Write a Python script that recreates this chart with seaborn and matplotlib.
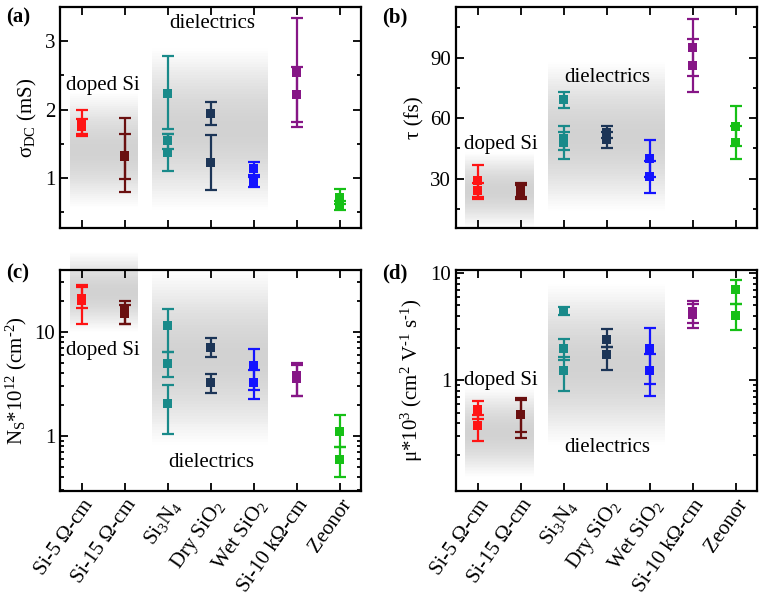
import numpy as np
import pandas as pd
import matplotlib
matplotlib.use("Agg")
import matplotlib.pyplot as plt
import seaborn as sns
from matplotlib.colors import LinearSegmentedColormap
from matplotlib.ticker import MultipleLocator, NullFormatter, LogLocator

# materials and colours
materials = ["Si-5 Ω-cm", "Si-15 Ω-cm", "Si$_3$N$_4$", "Dry SiO$_2$",
             "Wet SiO$_2$", "Si-10 kΩ-cm", "Zeonor"]
colors = ["#ff1414", "#6a1010", "#198a8a", "#1c3557", "#1414ff", "#861686", "#16c016"]

# (a) DC conductivity (mS): values, lower and upper error bar ends
sigma_vals = [[1.80, 1.75], [1.33, 1.31], [2.24, 1.55, 1.38], [1.94, 1.22], [1.14, 0.94], [2.55, 2.22], [0.72, 0.59]]
sigma_lo = [[1.64, 1.61], [0.80, 0.99], [1.71, 1.43, 1.11], [1.77, 0.82], [1.04, 0.87], [1.75, 1.82], [0.62, 0.54]]
sigma_hi = [[2.00, 1.87], [1.88, 1.64], [2.79, 1.64, 1.64], [2.11, 1.63], [1.24, 1.02], [3.34, 2.63], [0.84, 0.66]]

# (b) scattering time (fs)
tau_vals = [[29, 24], [24.5, 23.5], [69, 50, 48], [53, 49.5], [40, 31], [95, 86], [56, 48]]
tau_lo = [[21, 20], [21, 20], [65, 44, 40], [50, 45], [31, 23], [81, 73], [46, 40]]
tau_hi = [[37, 28], [28, 27], [73, 56, 53], [56, 53], [49, 39], [109, 99], [66, 56]]

# (c) carrier density (1e12 cm^-2)
ns_vals = [[21, 20], [16, 15], [11.5, 5.0, 2.05], [7.1, 3.26], [4.74, 3.26], [3.8, 3.6], [1.1, 0.6]]
ns_lo = [[12, 17], [12, 12], [6.4, 3.7, 1.04], [5.7, 2.57], [2.75, 2.25], [2.4, 2.4], [0.78, 0.40]]
ns_hi = [[28, 27], [20, 18], [16.6, 6.4, 3.07], [8.7, 3.94], [6.8, 4.27], [5.0, 4.8], [1.59, 0.78]]

# (d) mobility (1e3 cm^2 V^-1 s^-1)
mu_vals = [[0.54, 0.38], [0.48, 0.48], [4.45, 2.0, 1.23], [2.43, 1.75], [1.98, 1.23], [4.4, 4.1], [7.0, 4.0]]
mu_lo = [[0.44, 0.275], [0.33, 0.29], [4.1, 1.55, 0.8], [2.07, 1.26], [0.92, 0.72], [3.4, 3.05], [5.2, 2.93]]
mu_hi = [[0.64, 0.48], [0.68, 0.65], [4.8, 2.41, 1.66], [3.0, 2.07], [3.09, 1.76], [5.55, 5.2], [8.6, 5.2]]

panels = {"a": (sigma_vals, sigma_lo, sigma_hi),
          "b": (tau_vals, tau_lo, tau_hi),
          "c": (ns_vals, ns_lo, ns_hi),
          "d": (mu_vals, mu_lo, mu_hi)}

rows = []
for key, (vals, lo, hi) in panels.items():
    for i, m in enumerate(materials):
        for v, l, h in zip(vals[i], lo[i], hi[i]):
            rows.append({"panel": key, "pos": i, "material": m, "value": v, "lo": l, "hi": h})
df = pd.DataFrame(rows)

sns.set_theme(style="ticks")
plt.rcParams["font.family"] = "serif"
plt.rcParams["font.serif"] = ["Liberation Serif", "DejaVu Serif"]
plt.rcParams["mathtext.fontset"] = "custom"
plt.rcParams["mathtext.rm"] = "Liberation Serif"
plt.rcParams["mathtext.it"] = "Liberation Serif:italic"
plt.rcParams["mathtext.default"] = "regular"
for k in ["axes.edgecolor", "xtick.color", "ytick.color", "text.color", "axes.labelcolor"]:
    plt.rcParams[k] = "black"

shade_cmap = LinearSegmentedColormap.from_list("shade", ["white", "#d2d2d2"])


def shade(ax, x0, x1, y0, y1, log=False, dark=1.0):
    # vertical grey gradient box, darkest in the middle
    n = 60
    ys = np.geomspace(y0, y1, n + 1) if log else np.linspace(y0, y1, n + 1)
    t = (np.arange(n) + 0.5) / n
    c = dark * np.sin(np.pi * t) ** 1.1
    ax.pcolormesh([x0, x1], ys, c[:, None], cmap=shade_cmap, vmin=0, vmax=1,
                  shading="flat", zorder=0, clip_on=False, antialiased=False, lw=0)


fig = plt.figure(figsize=(7.65, 6.06), dpi=100)
boxes = {"a": [0.0784, 0.6238, 0.3935, 0.3646],
         "b": [0.5961, 0.6238, 0.3935, 0.3646],
         "c": [0.0784, 0.1898, 0.3935, 0.3646],
         "d": [0.5961, 0.1898, 0.3935, 0.3646]}
palette = dict(zip(materials, colors))
fs = 15

for key in "abcd":
    ax = fig.add_axes(boxes[key])
    if key in "cd":
        ax.set_yscale("log")
    sub = df[df["panel"] == key]
    for _, r in sub.iterrows():
        ax.errorbar(r["pos"], r["value"], yerr=[[r["value"] - r["lo"]], [r["hi"] - r["value"]]],
                    fmt="none", ecolor=colors[r["pos"]], elinewidth=1.6, capsize=4.5,
                    capthick=1.6, zorder=2)
    sns.scatterplot(data=sub, x="pos", y="value", hue="material", palette=palette,
                    marker="s", s=42, linewidth=0, legend=False, ax=ax, zorder=3)
    ax.set_xlim(-0.51, 6.49)
    ax.set_xticks(range(len(materials)))
    if key in "ab":
        ax.set_xticklabels([])
    else:
        ax.set_xticklabels(materials, rotation=55, ha="right", rotation_mode="anchor", fontsize=fs)
    ax.set_xlabel("")
    ax.tick_params(axis="both", which="both", direction="in", top=True, right=True, width=1.3)
    ax.tick_params(axis="both", which="major", length=6, labelsize=fs)
    ax.tick_params(axis="both", which="minor", length=3)
    for s in ax.spines.values():
        s.set_linewidth(1.6)

    if key == "a":
        ax.set_ylim(0.27, 3.5)
        ax.yaxis.set_major_locator(MultipleLocator(1))
        ax.yaxis.set_minor_locator(MultipleLocator(0.5))
        ax.set_ylabel("σ$_{DC}$ (mS)", fontsize=fs)
        shade(ax, -0.28, 1.30, 0.57, 2.25)
        shade(ax, 1.63, 4.33, 0.53, 2.9)
        ax.text(0.49, 2.35, "doped Si", ha="center", va="center", fontsize=fs)
        ax.text(3.02, 3.26, "dielectrics", ha="center", va="center", fontsize=fs)
    elif key == "b":
        ax.set_ylim(5.6, 115)
        ax.yaxis.set_major_locator(MultipleLocator(30))
        ax.yaxis.set_minor_locator(MultipleLocator(15))
        ax.set_ylabel("τ (fs)", fontsize=fs)
        shade(ax, -0.3, 1.3, 5.6, 43)
        shade(ax, 1.63, 4.35, 14, 88)
        ax.text(0.53, 47, "doped Si", ha="center", va="center", fontsize=fs)
        ax.text(3.0, 80, "dielectrics", ha="center", va="center", fontsize=fs)
    elif key == "c":
        ax.set_ylim(0.296, 39.4)
        ax.set_yticks([1, 10])
        ax.set_yticklabels(["1", "10"])
        ax.yaxis.set_minor_locator(LogLocator(base=10, subs=np.arange(2, 10)))
        ax.yaxis.set_minor_formatter(NullFormatter())
        ax.set_ylabel("N$_S$*10$^{12}$ (cm$^{\\text{-}2}$)", fontsize=fs)
        shade(ax, -0.28, 1.30, 10, 59, log=True)
        shade(ax, 1.63, 4.33, 0.82, 40, log=True)
        ax.text(0.49, 6.6, "doped Si", ha="center", va="center", fontsize=fs)
        ax.text(3.0, 0.55, "dielectrics", ha="center", va="center", fontsize=fs)
    else:
        ax.set_ylim(0.093, 10.7)
        ax.set_yticks([1, 10])
        ax.set_yticklabels(["1", "10"])
        ax.yaxis.set_minor_locator(LogLocator(base=10, subs=np.arange(2, 10)))
        ax.yaxis.set_minor_formatter(NullFormatter())
        ax.set_ylabel("μ*10$^3$ (cm$^2$ V$^{\\text{-}1}$ s$^{\\text{-}1}$)", fontsize=fs)
        shade(ax, -0.3, 1.3, 0.125, 0.86, log=True)
        shade(ax, 1.63, 4.35, 0.25, 8.0, log=True)
        ax.text(0.53, 1.0, "doped Si", ha="center", va="center", fontsize=fs)
        ax.text(3.0, 0.235, "dielectrics", ha="center", va="center", fontsize=fs)

for lab, x, y in [("(a)", 0.008, 0.988), ("(b)", 0.500, 0.988),
                  ("(c)", 0.008, 0.566), ("(d)", 0.500, 0.566)]:
    fig.text(x, y, lab, fontsize=fs, fontweight="bold", va="top", ha="left")

fig.savefig("out.png", dpi=100)
